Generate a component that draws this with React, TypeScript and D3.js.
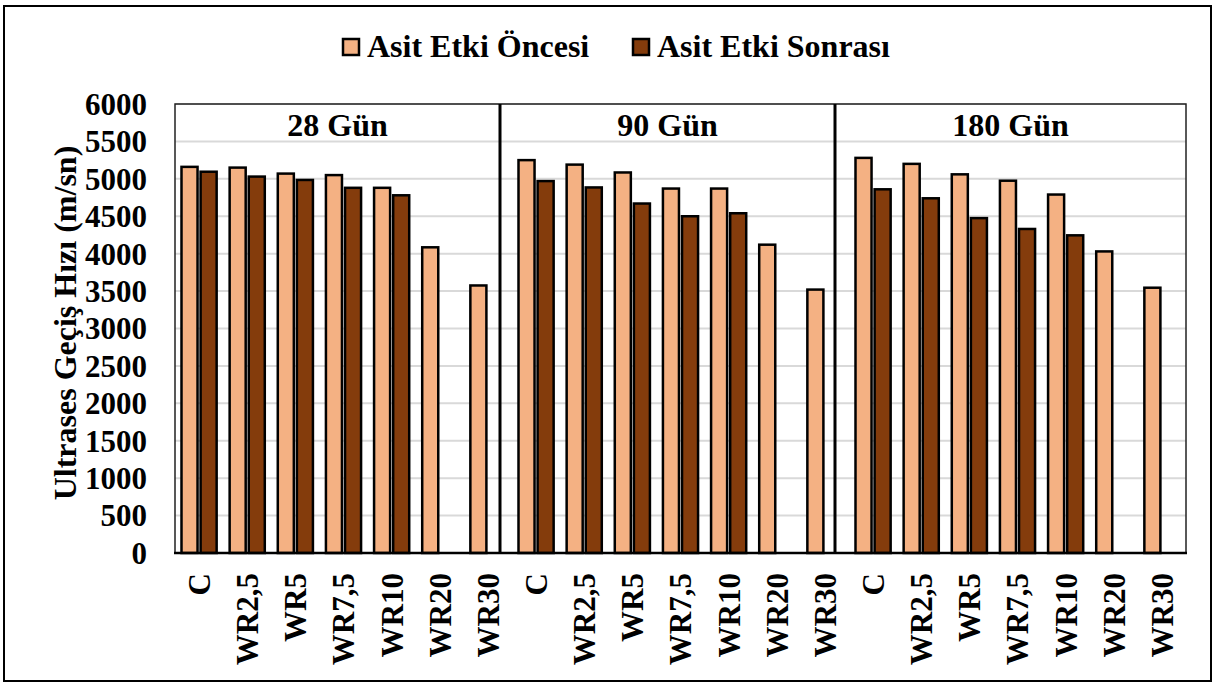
import React from "react";
import { scaleBand, scaleLinear } from "d3";

const categories = ["C", "WR2,5", "WR5", "WR7,5", "WR10", "WR20", "WR30"];
const groups = ["28 Gün", "90 Gün", "180 Gün"];
const seriesNames = ["Asit Etki Öncesi", "Asit Etki Sonrası"];
const seriesColors = ["#F4B183", "#843C0C"];

// values, per group
const before28 = [5160, 5150, 5070, 5050, 4880, 4085, 3575];
const after28 = [5095, 5030, 4985, 4880, 4780, null, null];
const before90 = [5250, 5190, 5085, 4870, 4870, 4120, 3520];
const after90 = [4970, 4885, 4670, 4500, 4540, null, null];
const before180 = [5280, 5200, 5060, 4975, 4790, 4030, 3545];
const after180 = [4860, 4740, 4475, 4330, 4245, null, null];

const yTicks = [0, 500, 1000, 1500, 2000, 2500, 3000, 3500, 4000, 4500, 5000, 5500, 6000];

const W = 1214;
const H = 684;
const plot = { left: 175, right: 1186, top: 104, bottom: 553 };
const dividerX = [500, 835];
const font = "'Liberation Serif', 'Times New Roman', serif";

export default function App() {
  const groupValues = [
    [before28, after28],
    [before90, after90],
    [before180, after180],
  ];

  // one flat row per bar pair
  const rows = groups.flatMap((g, gi) =>
    categories.map((c, ci) => ({
      key: `${gi}-${ci}`,
      cat: c,
      values: [groupValues[gi][0][ci], groupValues[gi][1][ci]],
    }))
  );

  const x = scaleBand<string>()
    .domain(rows.map((r) => r.key))
    .range([plot.left, plot.right])
    .padding(0);
  const bw = x.bandwidth();

  const xInner = scaleBand<number>()
    .domain([0, 1])
    .range([bw * 0.135, bw * 0.865])
    .paddingInner(0.16);

  const y = scaleLinear().domain([0, 6000]).range([plot.bottom, plot.top]);

  return (
    <div style={{ position: "absolute", left: 0, top: 0 }}>
      <svg width={W} height={H} style={{ display: "block", fontFamily: font, fontWeight: "bold" }}>
        <rect x={0} y={0} width={W} height={H} fill="#fff" />
        {/* outer frame */}
        <rect x={4} y={6} width={W - 7} height={H - 9} fill="none" stroke="#000" strokeWidth={2} />

        {/* legend */}
        {seriesNames.map((s, i) => {
          const lx = [343, 633][i];
          return (
            <g key={s}>
              <rect x={lx} y={39} width={16} height={16} fill={seriesColors[i]} stroke="#000" strokeWidth={2.5} />
              <text x={lx + 24} y={57} fontSize={32}>
                {s}
              </text>
            </g>
          );
        })}

        {/* grid */}
        {yTicks.map((t) => (
          <line key={t} x1={plot.left} x2={plot.right} y1={y(t)} y2={y(t)} stroke="#d9d9d9" strokeWidth={2} />
        ))}

        {/* y labels */}
        {yTicks.map((t) => (
          <text key={t} x={147} y={y(t)} dy="0.35em" textAnchor="end" fontSize={31}>
            {t}
          </text>
        ))}

        <text
          transform={`translate(76, 323) rotate(-90)`}
          textAnchor="middle"
          fontSize={32}
        >
          Ultrases Geçiş Hızı (m/sn)
        </text>

        {/* bars */}
        {rows.map((r) =>
          r.values.map((v, si) =>
            v == null ? null : (
              <rect
                key={`${r.key}-${si}`}
                x={(x(r.key) ?? 0) + (xInner(si) ?? 0)}
                y={y(v)}
                width={xInner.bandwidth()}
                height={y(0) - y(v)}
                fill={seriesColors[si]}
                stroke="#000"
                strokeWidth={2.5}
              />
            )
          )
        )}

        {/* plot frame */}
        <rect
          x={plot.left}
          y={plot.top}
          width={plot.right - plot.left}
          height={plot.bottom - plot.top}
          fill="none"
          stroke="#222"
          strokeWidth={1.5}
        />
        <line x1={plot.left - 1} x2={plot.right + 1} y1={plot.bottom} y2={plot.bottom} stroke="#000" strokeWidth={2.5} />
        {dividerX.map((dx) => (
          <line key={dx} x1={dx} x2={dx} y1={plot.top} y2={plot.bottom} stroke="#000" strokeWidth={3} />
        ))}

        {/* group labels */}
        {groups.map((g, gi) => {
          const left = gi === 0 ? plot.left : dividerX[gi - 1];
          const right = gi === groups.length - 1 ? plot.right : dividerX[gi];
          return (
            <text key={g} x={(left + right) / 2} y={136} textAnchor="middle" fontSize={32}>
              {g}
            </text>
          );
        })}

        {/* x labels */}
        {rows.map((r) => {
          const cx = (x(r.key) ?? 0) + bw / 2;
          return (
            <text
              key={r.key}
              transform={`translate(${cx}, 573) rotate(-90)`}
              textAnchor="end"
              dy="0.35em"
              fontSize={31}
            >
              {r.cat}
            </text>
          );
        })}
      </svg>
    </div>
  );
}
